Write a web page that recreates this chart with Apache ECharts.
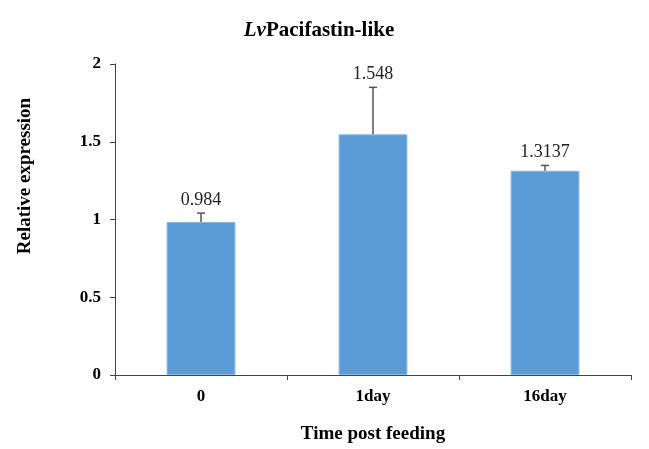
<!DOCTYPE html>
<html>
<head>
<meta charset="utf-8">
<script src="https://cdn.jsdelivr.net/npm/echarts@6/dist/echarts.min.js"></script>
<style>html,body{margin:0;padding:0;background:#fff}#c{width:649px;height:449px}</style>
</head>
<body>
<div id="c"></div>
<script>
var categories = ['0', '1day', '16day'];
var values = [0.984, 1.548, 1.3137];
var errors = [0.057, 0.302, 0.034];
var labels = ['0.984', '1.548', '1.3137'];
var yTicks = [0, 0.5, 1, 1.5, 2];

var FONT = '"Liberation Serif", "Times New Roman", serif';
var chart = echarts.init(document.getElementById('c'));
chart.setOption({
  animation: false,
  title: {
    text: '{i|Lv}{b|Pacifastin-like}',
    left: 314, textAlign: 'center', top: 15,
    textStyle: {
      rich: {
        i: {fontFamily: FONT, fontStyle: 'italic', fontWeight: 'bold', fontSize: 21, color: '#000'},
        b: {fontFamily: FONT, fontWeight: 'bold', fontSize: 21, color: '#000'}
      }
    }
  },
  grid: {left: 115, right: 18, top: 64, bottom: 72},
  xAxis: {
    type: 'category', data: categories,
    axisLine: {lineStyle: {color: '#444', width: 1}},
    axisTick: {show: true, length: 5, lineStyle: {color: '#444'}},
    axisLabel: {fontFamily: FONT, fontWeight: 'bold', fontSize: 17, color: '#000', margin: 13},
    name: 'Time post feeding', nameLocation: 'middle', nameGap: 50,
    nameTextStyle: {fontFamily: FONT, fontWeight: 'bold', fontSize: 19, color: '#000'}
  },
  yAxis: {
    type: 'value', min: yTicks[0], max: yTicks[yTicks.length - 1], interval: 0.5,
    splitLine: {show: false},
    axisLine: {show: true, lineStyle: {color: '#444', width: 1}},
    axisTick: {show: true, length: 5, lineStyle: {color: '#444'}},
    axisLabel: {fontFamily: FONT, fontWeight: 'bold', fontSize: 17, color: '#000', margin: 14}
  },
  graphic: [{
    type: 'text', x: 25, y: 176, rotation: Math.PI / 2,
    style: {text: 'Relative expression', fontFamily: FONT, fontWeight: 'bold', fontSize: 19, fill: '#000', align: 'center', verticalAlign: 'middle'}
  }],
  series: [{
    type: 'bar', data: values, barWidth: '40%',
    itemStyle: {color: '#5B9BD5', borderColor: '#8DB9E4', borderWidth: 1}
  }, {
    type: 'custom',
    data: values.map(function (v, i) { return [i, v, errors[i]]; }),
    renderItem: function (params, api) {
      var i = api.value(0), v = api.value(1), e = api.value(2);
      var base = api.coord([i, v]);
      var top = api.coord([i, v + e]);
      var hw = 4;
      return {
        type: 'group',
        children: [
          {type: 'line', shape: {x1: base[0], y1: base[1], x2: top[0], y2: top[1]}, style: {stroke: '#555', lineWidth: 1.5}},
          {type: 'line', shape: {x1: top[0] - hw, y1: top[1], x2: top[0] + hw, y2: top[1]}, style: {stroke: '#555', lineWidth: 1.5}},
          {type: 'text', x: top[0], y: top[1] - 13, style: {text: labels[params.dataIndex], fontFamily: FONT, fontSize: 18, fill: '#222', align: 'center', verticalAlign: 'middle'}}
        ]
      };
    },
    z: 10
  }]
});
</script>
</body>
</html>
